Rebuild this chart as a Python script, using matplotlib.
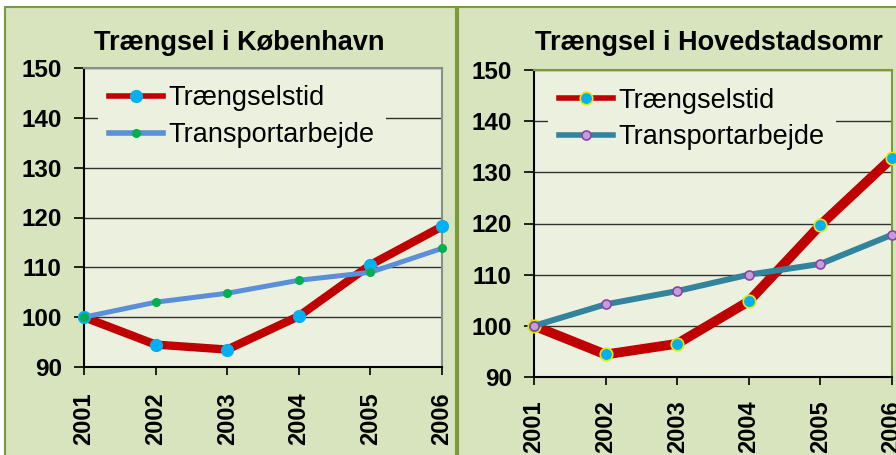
import matplotlib.pyplot as plt
from matplotlib.patches import Rectangle

years = ["2001", "2002", "2003", "2004", "2005", "2006"]

# Trængsel i København
kbh_traengsel = [100, 94.5, 93.5, 100.2, 110.5, 118.2]
kbh_transport = [100, 103.0, 104.8, 107.4, 109.0, 113.8]

# Trængsel i Hovedstadsområdet
hov_traengsel = [100, 94.4, 96.5, 104.8, 119.7, 132.8]
hov_transport = [100, 104.2, 106.8, 110.0, 112.1, 117.8]

plt.rcParams["font.family"] = ["Liberation Sans", "DejaVu Sans"]

panel_bg = "#d7e4bd"
plot_bg = "#ebf1de"
border = "#7a9a3c"

W, H = 896, 455
fig = plt.figure(figsize=(W / 100, H / 100), dpi=100)


def px_rect(x0, y0, x1, y1):
    # pixel box (top-left origin) -> figure fraction [left, bottom, w, h]
    return [x0 / W, 1 - y1 / H, (x1 - x0) / W, (y1 - y0) / H]


# chart panels behind the plots
for x0, x1 in [(5, 456), (458, 960)]:
    l, b, w, h = px_rect(x0, 7, x1, 470)
    fig.patches.append(Rectangle((l, b), w, h, transform=fig.transFigure,
                                 facecolor=panel_bg, edgecolor=border, lw=1.5, zorder=-1))


def draw(rect, title, title_x, title_ha, s1, s2, style1, style2, frame_color, xpad):
    ax = fig.add_axes(px_rect(*rect))
    ax.set_zorder(2)
    ax.set_facecolor(plot_bg)
    x = range(len(years))
    ax.plot(x, s1, label="Trængselstid", zorder=3, clip_on=False, **style1)
    ax.plot(x, s2, label="Transportarbejde", zorder=4, clip_on=False, **style2)
    ax.set_xlim(0, len(years) - 1)
    ax.set_ylim(90, 150)
    ax.set_yticks(range(90, 151, 10))
    ax.set_xticks(list(x))
    ax.set_xticklabels(years, rotation=90, fontweight="bold", fontsize=17)
    for t in ax.get_yticklabels():
        t.set_fontweight("bold")
        t.set_fontsize(17.5)
    ax.tick_params(axis="y", direction="out", length=7, width=1.2, pad=9)
    ax.tick_params(axis="x", direction="out", length=6, width=1.2, pad=xpad)
    ax.grid(axis="y", color="#303030", lw=1.0)
    ax.set_axisbelow(True)
    for s in ["left", "bottom"]:
        ax.spines[s].set_color("black")
        ax.spines[s].set_linewidth(1.5)
    for s in ["top", "right"]:
        ax.spines[s].set_color(frame_color)
        ax.spines[s].set_linewidth(1.5)
    leg = ax.legend(loc="upper left", bbox_to_anchor=(0.04, 0.978), fontsize=19.5,
                    frameon=True, facecolor=plot_bg, edgecolor="none", framealpha=1,
                    fancybox=False, handlelength=2.0, handletextpad=0.2,
                    borderpad=0.4, labelspacing=0.4, borderaxespad=0)
    leg.set_zorder(5)
    for ln in leg.get_lines():
        ln.set_linewidth(4)
    fig.text(title_x / W, 1 - 50 / H, title, ha=title_ha, va="baseline",
             fontsize=19.5, fontweight="bold")
    return ax


draw((84, 68, 442, 367), "Trængsel i København", 239, "center",
     kbh_traengsel, kbh_transport,
     dict(color="#c00000", lw=6, marker="o", ms=8.5, mfc="#00b0f0", mec="#00b0f0"),
     dict(color="#5b8fd8", lw=3.6, marker="o", ms=5.5, mfc="#00b050", mec="#00b050"),
     "#8c8c8c", 12)

draw((534, 70, 892, 377), "Trængsel i Hovedstadsomr", 535, "left",
     hov_traengsel, hov_transport,
     dict(color="#c00000", lw=7, marker="o", ms=9, mfc="#00b0f0", mec="#e8e800", mew=1.2),
     dict(color="#31849b", lw=4.3, marker="o", ms=6.5, mfc="#c0a0d8", mec="#9040a8", mew=1.2),
     border, 10.5)

fig.savefig("out.png", dpi=100)
